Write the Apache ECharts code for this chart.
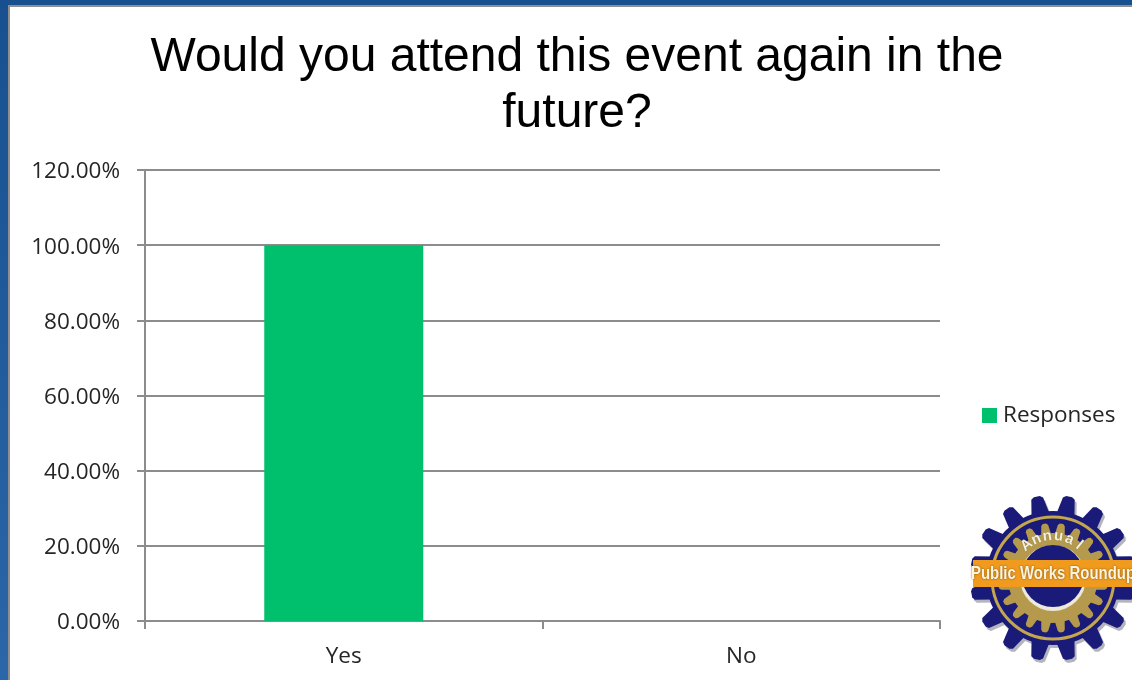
<!DOCTYPE html>
<html><head><meta charset="utf-8">
<style>html,body{margin:0;padding:0;background:#1f5a9e}#c{width:1132px;height:680px}</style>
<script src="https://cdn.jsdelivr.net/npm/echarts@6/dist/echarts.min.js"></script>
</head><body><div id="c"></div>
<script>
const titleText = 'Would you attend this event again in the\nfuture?';
const categories = ['Yes', 'No'];
const responses = [100, 0];
const seriesName = 'Responses';
const logoBand = 'Public Works Roundup';
const logoArc = 'Annual';

const chart = echarts.init(document.getElementById('c'));
const cx = 1053, cy = 578;
const logo = [];
function gear(rBody, rTip, rBase, n, wBase, wTip, fill, z, dx, dy) {
  dx = dx || 0; dy = dy || 0;
  logo.push({type:'circle', silent:true, z, shape:{cx:cx+dx, cy:cy+dy, r:rBody}, style:{fill}});
  for (let i = 0; i < n; i++) {
    const a = (i + 0.5) / n * Math.PI * 2;
    logo.push({type:'polygon', silent:true, z, x:cx+dx, y:cy+dy, rotation:-a,
      shape:{points:[[rBase,-wBase/2],[rTip-2,-wTip/2],[rTip,-wTip/4],[rTip,wTip/4],[rTip-2,wTip/2],[rBase,wBase/2]]},
      style:{fill}});
  }
}
gear(67, 83, 62, 16, 19, 12, '#b4b4be', 3, 2, 3);
gear(67, 83, 62, 16, 19, 12, '#1a1a78', 4);
logo.push({type:'circle', silent:true, z:5, shape:{cx, cy, r:61}, style:{fill:'none', stroke:'#c3a650', lineWidth:3}});
gear(45, 55, 40, 20, 11, 7, '#b59a4e', 6);
logo.push({type:'circle', silent:true, z:7, shape:{cx, cy, r:33}, style:{fill:'#ece8dc'}});
logo.push({type:'circle', silent:true, z:7, shape:{cx, cy:cy-2, r:31}, style:{fill:'#1a1a78'}});
logo.push({type:'rect', silent:true, z:9, shape:{x:973, y:560, width:159, height:27}, style:{fill:'#f09a1e'}});
logo.push({type:'text', silent:true, z:10, x:1053, y:574, scaleX:0.83,
  style:{text:logoBand, fill:'#fff4dc', font:'bold 18px "Liberation Sans"', align:'center', verticalAlign:'middle',
    textShadowColor:'#6b4a10', textShadowBlur:2}});
[...logoArc].forEach((ch, i) => {
  const a = (90 + (2.5 - i) * 15.5) * Math.PI / 180;
  logo.push({type:'text', silent:true, z:10, x:cx + 42*Math.cos(a), y:cy - 42*Math.sin(a), rotation:a - Math.PI/2,
    style:{text:ch, fill:'#f4f0e0', font:'bold 15px "Liberation Sans"', align:'center', verticalAlign:'middle',
      textShadowColor:'#6b5a20', textShadowBlur:1}});
});

chart.setOption({
  animation:false,
  backgroundColor:'#ffffff',
  title:{text:titleText, left:572, top:25, textAlign:'center',
    textStyle:{fontFamily:'Liberation Sans', fontSize:48, fontWeight:'normal', color:'#000000', lineHeight:56}},
  legend:{data:[seriesName], left:977, top:399, orient:'vertical', icon:'rect', itemWidth:15, itemHeight:15, itemGap:0,
    textStyle:{fontFamily:'Open Sans', fontSize:22.5, color:'#262626', padding:[0,0,0,1]}},
  grid:{left:145, right:192, top:170, bottom:59, containLabel:false},
  xAxis:{type:'category', data:categories,
    axisLine:{lineStyle:{color:'#8c8c8c', width:2}},
    axisTick:{show:true, length:8, alignWithLabel:false, lineStyle:{color:'#8c8c8c', width:2}},
    axisLabel:{fontFamily:'Open Sans', fontSize:22.5, color:'#262626', margin:24}},
  yAxis:{type:'value', min:0, max:120, interval:20,
    axisLine:{show:true, lineStyle:{color:'#8c8c8c', width:2}},
    axisTick:{show:true, length:8, lineStyle:{color:'#8c8c8c', width:2}},
    splitLine:{lineStyle:{color:'#8c8c8c', width:2}},
    axisLabel:{fontFamily:'Open Sans', fontSize:22.5, color:'#262626', margin:25, verticalAlign:'top', lineHeight:4,
      formatter:v => v.toFixed(2) + '%'}},
  series:[{name:seriesName, type:'bar', data:responses, barWidth:'40%', itemStyle:{color:'#00c06e'}}],
  graphic:[
    {type:'rect', silent:true, z:-10, shape:{x:0,y:0,width:1132,height:680},
      style:{fill:new echarts.graphic.LinearGradient(0,0,0,1,[{offset:0,color:'#18508f'},{offset:1,color:'#2a66a8'}])}},
    {type:'rect', silent:true, z:-9, shape:{x:9,y:6,width:1130,height:680},
      style:{fill:'#ffffff', stroke:'#8f8f8f', lineWidth:2}},
    ...logo
  ]
});
</script></body></html>
